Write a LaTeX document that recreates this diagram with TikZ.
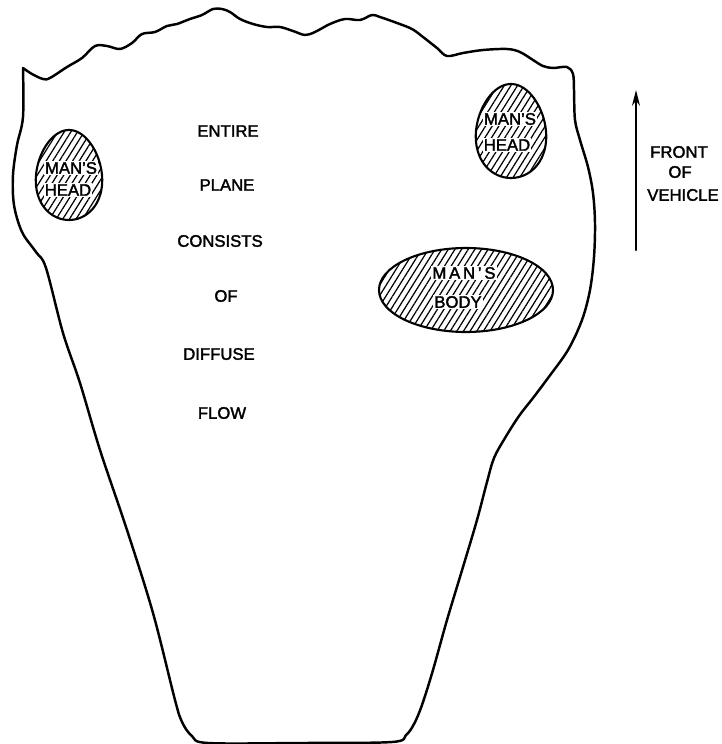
\documentclass[tikz,border=0pt]{standalone}
\usepackage{fontspec}
\setmainfont{Liberation Sans}[FakeBold=2]
\usetikzlibrary{arrows.meta,patterns.meta}

\begin{document}
\begin{tikzpicture}[
	x=0.02cm,
	y=-0.02cm,
	line join=round,
	line cap=round,
	>={Stealth[length=9pt,width=4.5pt]},
	font=\fontsize{9.5}{11}\selectfont,
	hatch/.style={pattern={Lines[angle=58,distance=3.2pt,line width=0.7pt]}},
	onhatch/.style={fill=white, inner sep=0.6pt}
	]
	
	\useasboundingbox (0,0) rectangle (721,744);
	
	% Outline of the plane
	\draw[line width=1.4pt] plot[smooth, tension=0.55] coordinates {
		(23,68) (23,117) (17,145) (13,175) (14,205) (22,232) (36,252) (46,268)
		(63,333) (80,383) (100,450) (127,530) (153,613) (175,700) (182,722)
		(192,736) (208,743) (300,743) (392,742) (406,735) (414,724) (422,705)
		(433,670) (447,620) (463,567) (477,520) (487,482) (494,458) (505,438)
		(519,416) (533,398) (548,378) (568,350) (582,320) (590,290) (594,257)
		(595,223) (593,193) (588,167) (580,140) (575,120) (574,90) (573,74)
		(567,67) (553,68) (543,66) (533,60) (520,52) (507,49) (483,50)
		(463,53) (447,56) (437,48) (423,37) (412,29) (397,23) (380,17)
		(372,15) (360,20) (345,19) (330,24) (315,32) (305,35) (293,31)
		(280,27) (267,27) (253,24) (240,19) (230,12) (222,9) (213,9)
		(202,15) (190,19) (177,24) (167,26) (155,32) (142,34) (132,43)
		(120,49) (107,46) (95,46) (82,58) (67,67) (50,78) (43,79) (32,74) (23,68)
	};
	
	% Heads
	\foreach \cx/\cy/\rx/\ry in {69/175/33/45, 511/131/35/47}{
		\draw[hatch, line width=1.2pt] plot[smooth cycle, domain=0:355, samples=72]
			({\cx+\rx*cos(\x)*(1+0.12*sin(\x))}, {\cy+\ry*sin(\x)});
	}
	
	% Body
	\draw[hatch, line width=1.2pt] (466,290) ellipse [x radius=87, y radius=42];
	
	% Labels on the hatched areas
	\node[onhatch] (lhead1) at (71,168) {MAN'S};
	\node[onhatch] (lhead2) at (68,190) {HEAD};
	\node[onhatch] (rhead1) at (510,119) {MAN'S};
	\node[onhatch] (rhead2) at (507,145) {HEAD};
	\node[onhatch] (body1) at (464,273) {M\,A\,N\,'\,S};
	\node[onhatch] (body2) at (458,302) {BODY};
	
	% Middle text
	\foreach \n/\x/\y/\t in {
		1/228/131/ENTIRE,
		2/227/185/PLANE,
		3/220/241/CONSISTS,
		4/226/296/OF,
		5/219/354/DIFFUSE,
		6/222/413/FLOW
	}{
		\node (word\n) at (\x,\y) {\t};
	}
	
	% Direction arrow
	\coordinate (ftail) at (636,250);
	\coordinate (fhead) at (636,90);
	\draw[->, line width=1.2pt] (ftail) -- (fhead);
	\node (front) at (679,152) {FRONT};
	\node (fof) at (680,172) {OF};
	\node (vehicle) at (683,195) {VEHICLE};
	
\end{tikzpicture}
\end{document}
